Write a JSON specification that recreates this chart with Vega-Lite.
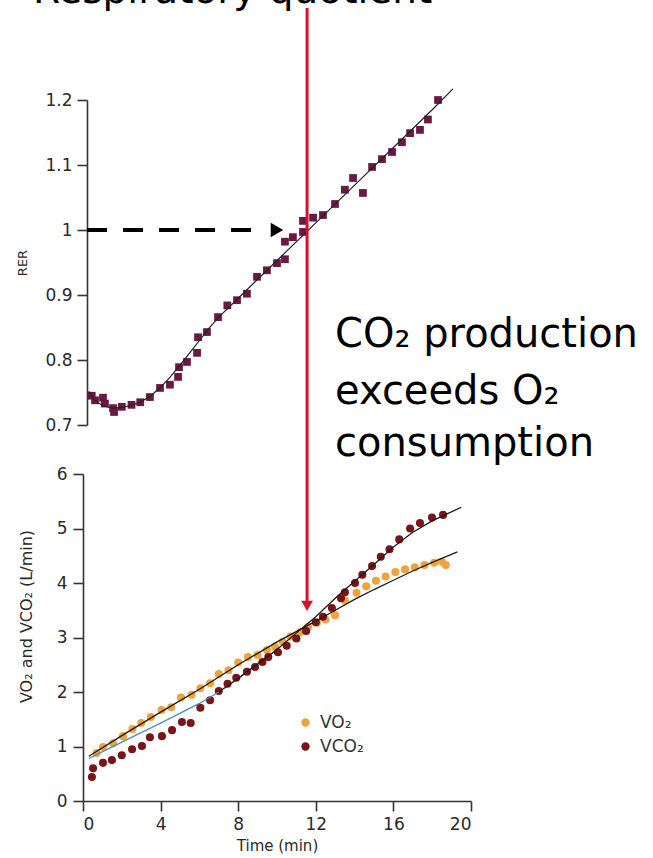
{
  "$schema": "https://vega.github.io/schema/vega-lite/v6.json",
  "autosize": {"type": "none"},
  "padding": {"left": 83, "top": 100, "right": 182, "bottom": 57},
  "width": 388,
  "height": 701,
  "background": "white",
  "config": {
    "view": {"stroke": null},
    "axis": {
      "grid": false,
      "domainColor": "#333333",
      "domainWidth": 1.6,
      "tickColor": "#333333",
      "tickWidth": 1.6,
      "tickSize": 10,
      "labelFont": "DejaVu Sans",
      "labelFontSize": 17,
      "labelColor": "#2a2a2a",
      "labelPadding": 5,
      "titleFont": "DejaVu Sans",
      "titleFontWeight": "normal",
      "titleColor": "#2a2a2a"
    }
  },
  "resolve": {"scale": {"y": "independent"}, "axis": {"y": "independent"}},
  "layer": [
    {
      "layer": [
        {
          "data": {"values": [
            {"t": 0.45, "rer": 0.745}, {"t": 0.62, "rer": 0.738}, {"t": 1.03, "rer": 0.742},
            {"t": 1.13, "rer": 0.733}, {"t": 1.55, "rer": 0.726}, {"t": 1.6, "rer": 0.72},
            {"t": 2.0, "rer": 0.728}, {"t": 2.5, "rer": 0.731}, {"t": 2.95, "rer": 0.735},
            {"t": 3.45, "rer": 0.743}, {"t": 3.97, "rer": 0.757}, {"t": 4.48, "rer": 0.762},
            {"t": 4.9, "rer": 0.774}, {"t": 4.95, "rer": 0.789}, {"t": 5.36, "rer": 0.797},
            {"t": 5.88, "rer": 0.811}, {"t": 5.93, "rer": 0.835}, {"t": 6.39, "rer": 0.843},
            {"t": 6.96, "rer": 0.866}, {"t": 7.44, "rer": 0.884}, {"t": 7.94, "rer": 0.892},
            {"t": 8.45, "rer": 0.902}, {"t": 8.97, "rer": 0.928}, {"t": 9.48, "rer": 0.938},
            {"t": 10.0, "rer": 0.949}, {"t": 10.41, "rer": 0.955}, {"t": 10.41, "rer": 0.982},
            {"t": 10.82, "rer": 0.989}, {"t": 11.34, "rer": 0.997}, {"t": 11.34, "rer": 1.014},
            {"t": 11.86, "rer": 1.019}, {"t": 12.37, "rer": 1.023}, {"t": 12.99, "rer": 1.04},
            {"t": 13.5, "rer": 1.062}, {"t": 13.92, "rer": 1.08}, {"t": 14.43, "rer": 1.057},
            {"t": 14.9, "rer": 1.097}, {"t": 15.41, "rer": 1.109}, {"t": 15.93, "rer": 1.12},
            {"t": 16.44, "rer": 1.135}, {"t": 16.86, "rer": 1.149}, {"t": 17.37, "rer": 1.154},
            {"t": 17.78, "rer": 1.17}, {"t": 18.3, "rer": 1.2}
          ]},
          "mark": {"type": "square", "size": 60, "color": "#6a1944", "opacity": 1, "filled": true},
          "encoding": {
            "x": {"field": "t", "type": "quantitative", "scale": {"domain": [0, 20], "nice": false}},
            "y": {
              "field": "rer", "type": "quantitative",
              "scale": {"domain": [0.7, 1.2], "range": [325, 0], "nice": false, "zero": false},
              "axis": {
                "values": [0.7, 0.8, 0.9, 1, 1.1, 1.2],
                "format": "~g",
                "title": "RER",
                "titleFontSize": 13,
                "titlePadding": 15,
                "offset": -4
              }
            }
          }
        },
        {
          "data": {"values": [
            {"t": 0.3, "rer": 0.752}, {"t": 0.6, "rer": 0.738}, {"t": 1.0, "rer": 0.73},
            {"t": 1.5, "rer": 0.726}, {"t": 2.0, "rer": 0.727}, {"t": 2.5, "rer": 0.73},
            {"t": 3.0, "rer": 0.736}, {"t": 3.5, "rer": 0.745}, {"t": 4.0, "rer": 0.758},
            {"t": 4.5, "rer": 0.774}, {"t": 5.0, "rer": 0.792}, {"t": 5.5, "rer": 0.811},
            {"t": 6.0, "rer": 0.83}, {"t": 6.5, "rer": 0.849}, {"t": 7.0, "rer": 0.866},
            {"t": 8.0, "rer": 0.895}, {"t": 10.0, "rer": 0.953}, {"t": 12.0, "rer": 1.011},
            {"t": 14.0, "rer": 1.069}, {"t": 16.0, "rer": 1.127}, {"t": 18.0, "rer": 1.185},
            {"t": 19.07, "rer": 1.217}
          ]},
          "mark": {"type": "line", "color": "#222222", "strokeWidth": 1.2, "clip": false},
          "encoding": {
            "x": {"field": "t", "type": "quantitative"},
            "y": {"field": "rer", "type": "quantitative"}
          }
        },
        {
          "data": {"values": [{"t": 0.21, "t2": 8.76, "rer": 1.0}]},
          "mark": {"type": "rule", "color": "#000000", "strokeWidth": 4, "strokeDash": [20, 16], "clip": false},
          "encoding": {
            "x": {"field": "t", "type": "quantitative"},
            "x2": {"field": "t2"},
            "y": {"field": "rer", "type": "quantitative"}
          }
        },
        {
          "data": {"values": [{"t": 10.0, "rer": 1.0}]},
          "mark": {"type": "point", "shape": "triangle-right", "size": 210, "filled": true, "color": "#000000", "opacity": 1},
          "encoding": {
            "x": {"field": "t", "type": "quantitative"},
            "y": {"field": "rer", "type": "quantitative"}
          }
        },
        {
          "data": {"values": [{"t": -2.58, "rer": 1.349, "label": "Respiratory quotient"}]},
          "mark": {"type": "text", "font": "DejaVu Sans", "fontSize": 39, "align": "left", "baseline": "alphabetic", "color": "#000000", "clip": false},
          "encoding": {
            "x": {"field": "t", "type": "quantitative"},
            "y": {"field": "rer", "type": "quantitative"},
            "text": {"field": "label"}
          }
        },
        {
          "data": {"values": [
            {"t": 12.99, "rer": 0.82, "label": "CO₂ production"},
            {"t": 12.99, "rer": 0.733, "label": "exceeds O₂"},
            {"t": 12.99, "rer": 0.652, "label": "consumption"}
          ]},
          "mark": {"type": "text", "font": "DejaVu Sans", "fontSize": 40, "align": "left", "baseline": "alphabetic", "color": "#000000", "clip": false},
          "encoding": {
            "x": {"field": "t", "type": "quantitative"},
            "y": {"field": "rer", "type": "quantitative"},
            "text": {"field": "label"}
          }
        }
      ]
    },
    {
      "layer": [
        {
          "data": {"values": [
            {"t": 0.7, "v": 0.88, "gas": "VO₂"}, {"t": 1.03, "v": 0.99, "gas": "VO₂"},
            {"t": 1.55, "v": 1.06, "gas": "VO₂"}, {"t": 2.06, "v": 1.19, "gas": "VO₂"},
            {"t": 2.55, "v": 1.32, "gas": "VO₂"}, {"t": 3.0, "v": 1.43, "gas": "VO₂"},
            {"t": 3.5, "v": 1.54, "gas": "VO₂"}, {"t": 4.05, "v": 1.67, "gas": "VO₂"},
            {"t": 4.55, "v": 1.72, "gas": "VO₂"}, {"t": 5.05, "v": 1.9, "gas": "VO₂"},
            {"t": 5.6, "v": 1.95, "gas": "VO₂"}, {"t": 6.05, "v": 2.07, "gas": "VO₂"},
            {"t": 6.55, "v": 2.16, "gas": "VO₂"}, {"t": 7.0, "v": 2.33, "gas": "VO₂"},
            {"t": 7.5, "v": 2.4, "gas": "VO₂"}, {"t": 8.0, "v": 2.54, "gas": "VO₂"},
            {"t": 8.5, "v": 2.64, "gas": "VO₂"}, {"t": 9.0, "v": 2.68, "gas": "VO₂"},
            {"t": 9.48, "v": 2.77, "gas": "VO₂"}, {"t": 9.9, "v": 2.83, "gas": "VO₂"},
            {"t": 10.3, "v": 2.92, "gas": "VO₂"}, {"t": 10.7, "v": 3.02, "gas": "VO₂"},
            {"t": 11.2, "v": 3.1, "gas": "VO₂"}, {"t": 11.6, "v": 3.19, "gas": "VO₂"},
            {"t": 12.06, "v": 3.27, "gas": "VO₂"}, {"t": 12.5, "v": 3.33, "gas": "VO₂"},
            {"t": 12.99, "v": 3.41, "gas": "VO₂"}, {"t": 13.5, "v": 3.68, "gas": "VO₂"},
            {"t": 14.1, "v": 3.82, "gas": "VO₂"}, {"t": 14.6, "v": 3.94, "gas": "VO₂"},
            {"t": 15.1, "v": 4.04, "gas": "VO₂"}, {"t": 15.6, "v": 4.12, "gas": "VO₂"},
            {"t": 16.1, "v": 4.2, "gas": "VO₂"}, {"t": 16.6, "v": 4.25, "gas": "VO₂"},
            {"t": 17.1, "v": 4.29, "gas": "VO₂"}, {"t": 17.6, "v": 4.33, "gas": "VO₂"},
            {"t": 18.1, "v": 4.37, "gas": "VO₂"}, {"t": 18.5, "v": 4.39, "gas": "VO₂"},
            {"t": 18.7, "v": 4.33, "gas": "VO₂"},
            {"t": 0.46, "v": 0.44, "gas": "VCO₂"}, {"t": 0.52, "v": 0.6, "gas": "VCO₂"},
            {"t": 1.03, "v": 0.7, "gas": "VCO₂"}, {"t": 1.49, "v": 0.75, "gas": "VCO₂"},
            {"t": 2.0, "v": 0.84, "gas": "VCO₂"}, {"t": 2.53, "v": 0.95, "gas": "VCO₂"},
            {"t": 3.04, "v": 1.01, "gas": "VCO₂"}, {"t": 3.45, "v": 1.17, "gas": "VCO₂"},
            {"t": 4.07, "v": 1.19, "gas": "VCO₂"}, {"t": 4.59, "v": 1.3, "gas": "VCO₂"},
            {"t": 5.1, "v": 1.45, "gas": "VCO₂"}, {"t": 5.55, "v": 1.43, "gas": "VCO₂"},
            {"t": 6.05, "v": 1.71, "gas": "VCO₂"}, {"t": 6.55, "v": 1.85, "gas": "VCO₂"},
            {"t": 7.0, "v": 2.02, "gas": "VCO₂"}, {"t": 7.45, "v": 2.15, "gas": "VCO₂"},
            {"t": 7.9, "v": 2.26, "gas": "VCO₂"}, {"t": 8.45, "v": 2.37, "gas": "VCO₂"},
            {"t": 8.87, "v": 2.46, "gas": "VCO₂"}, {"t": 9.25, "v": 2.55, "gas": "VCO₂"},
            {"t": 9.55, "v": 2.64, "gas": "VCO₂"}, {"t": 10.05, "v": 2.73, "gas": "VCO₂"},
            {"t": 10.5, "v": 2.85, "gas": "VCO₂"}, {"t": 11.0, "v": 2.98, "gas": "VCO₂"},
            {"t": 11.5, "v": 3.12, "gas": "VCO₂"}, {"t": 12.0, "v": 3.28, "gas": "VCO₂"},
            {"t": 12.37, "v": 3.38, "gas": "VCO₂"}, {"t": 12.83, "v": 3.54, "gas": "VCO₂"},
            {"t": 13.3, "v": 3.72, "gas": "VCO₂"}, {"t": 13.5, "v": 3.83, "gas": "VCO₂"},
            {"t": 14.02, "v": 4.0, "gas": "VCO₂"}, {"t": 14.4, "v": 4.15, "gas": "VCO₂"},
            {"t": 14.9, "v": 4.31, "gas": "VCO₂"}, {"t": 15.35, "v": 4.48, "gas": "VCO₂"},
            {"t": 15.8, "v": 4.62, "gas": "VCO₂"}, {"t": 16.3, "v": 4.8, "gas": "VCO₂"},
            {"t": 16.86, "v": 5.0, "gas": "VCO₂"}, {"t": 17.37, "v": 5.1, "gas": "VCO₂"},
            {"t": 17.99, "v": 5.2, "gas": "VCO₂"}, {"t": 18.56, "v": 5.25, "gas": "VCO₂"}
          ]},
          "mark": {"type": "circle", "size": 65, "opacity": 1},
          "encoding": {
            "x": {
              "field": "t", "type": "quantitative",
              "axis": {"values": [0, 4, 8, 12, 16, 20], "title": "Time (min)", "titleFontSize": 15, "titlePadding": 6, "labelPadding": 5}
            },
            "y": {
              "field": "v", "type": "quantitative",
              "scale": {"domain": [0, 6], "range": [701, 374], "nice": false},
              "axis": {"orient": "left", "values": [0, 1, 2, 3, 4, 5, 6], "format": "~g", "title": "VO₂ and VCO₂ (L/min)", "titleFontSize": 16, "titlePadding": 22, "labelPadding": 6, "titleY": 516}
            },
            "color": {
              "field": "gas", "type": "nominal",
              "scale": {"domain": ["VO₂", "VCO₂"], "range": ["#f0a23c", "#7a1418"]},
              "legend": {
                "title": null, "orient": "none", "legendX": 214, "legendY": 614,
                "padding": 0, "symbolType": "circle", "symbolSize": 70,
                "labelFont": "DejaVu Sans", "labelFontSize": 17, "labelColor": "#333333",
                "rowPadding": 6, "labelOffset": 6
              }
            }
          }
        },
        {
          "data": {"values": [
            {"t": 0.3, "v": 0.82}, {"t": 2.0, "v": 1.2}, {"t": 4.0, "v": 1.63}, {"t": 6.0, "v": 2.05},
            {"t": 8.0, "v": 2.5}, {"t": 10.0, "v": 2.92}, {"t": 12.0, "v": 3.3}, {"t": 13.0, "v": 3.5},
            {"t": 14.0, "v": 3.7}, {"t": 15.0, "v": 3.88}, {"t": 16.0, "v": 4.05}, {"t": 17.0, "v": 4.22},
            {"t": 18.0, "v": 4.38}, {"t": 19.3, "v": 4.57}
          ]},
          "mark": {"type": "line", "color": "#1a1a1a", "strokeWidth": 1.3},
          "encoding": {
            "x": {"field": "t", "type": "quantitative"},
            "y": {"field": "v", "type": "quantitative"}
          }
        },
        {
          "data": {"values": [
            {"t": 0.3, "v": 0.78}, {"t": 2.0, "v": 1.08}, {"t": 4.0, "v": 1.43}, {"t": 6.0, "v": 1.79},
            {"t": 7.0, "v": 2.0}
          ]},
          "mark": {"type": "line", "color": "#4a8cc4", "strokeWidth": 1.3},
          "encoding": {
            "x": {"field": "t", "type": "quantitative"},
            "y": {"field": "v", "type": "quantitative"}
          }
        },
        {
          "data": {"values": [
            {"t": 7.0, "v": 2.0}, {"t": 8.0, "v": 2.25}, {"t": 10.0, "v": 2.78}, {"t": 11.55, "v": 3.25},
            {"t": 12.0, "v": 3.38}, {"t": 13.0, "v": 3.72}, {"t": 14.0, "v": 4.03}, {"t": 15.0, "v": 4.34},
            {"t": 16.0, "v": 4.66}, {"t": 17.0, "v": 4.93}, {"t": 18.0, "v": 5.14}, {"t": 19.5, "v": 5.39}
          ]},
          "mark": {"type": "line", "color": "#1a1a1a", "strokeWidth": 1.3},
          "encoding": {
            "x": {"field": "t", "type": "quantitative"},
            "y": {"field": "v", "type": "quantitative"}
          }
        },
        {
          "data": {"values": [{"t": 11.55, "v": 3.6, "v2": 14.55}]},
          "mark": {"type": "rule", "color": "#d0142c", "strokeWidth": 3, "clip": false},
          "encoding": {
            "x": {"field": "t", "type": "quantitative"},
            "y": {"field": "v", "type": "quantitative"},
            "y2": {"field": "v2"}
          }
        },
        {
          "data": {"values": [{"t": 11.55, "v": 3.58}]},
          "mark": {"type": "point", "shape": "triangle-down", "size": 140, "filled": true, "color": "#d0142c", "opacity": 1},
          "encoding": {
            "x": {"field": "t", "type": "quantitative"},
            "y": {"field": "v", "type": "quantitative"}
          }
        }
      ]
    }
  ]
}
